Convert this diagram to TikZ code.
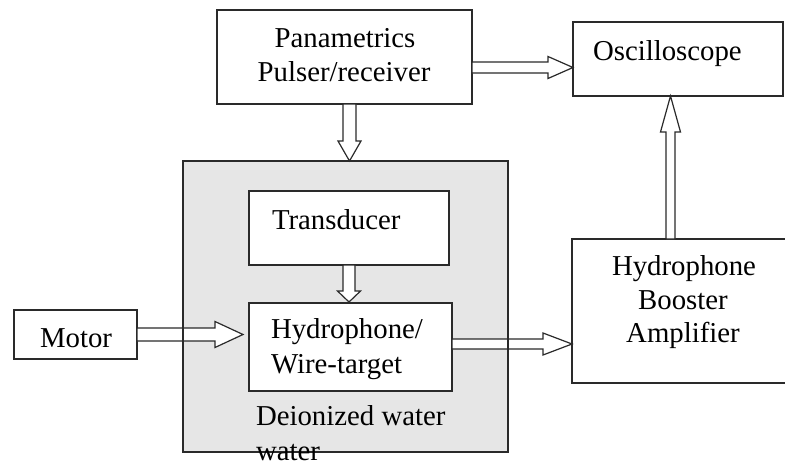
\documentclass[tikz,border=0pt]{standalone}
\usepackage{fontspec}
\setmainfont{Liberation Serif}
\usetikzlibrary{calc}
\definecolor{linec}{HTML}{2A2A2A}
\definecolor{waterc}{HTML}{E6E6E6}
\tikzset{
  box/.style={draw=linec, line width=1.4pt, fill=white, inner sep=0pt, outer sep=0pt, anchor=north west},
  lbl/.style={inner sep=0pt, outer sep=0pt, text=black, font=\fontsize{28.8pt}{34pt}\selectfont},
  barrow/.style={draw=linec, line width=1.2pt, fill=white, line join=miter}
}
% right-pointing block arrow: start, tip, shaft half, head half, head length
\newcommand{\barrowR}[5]{\draw[barrow] ($(#1)+(0,-#3)$) -- ($(#2)+(-#5,-#3)$) -- ($(#2)+(-#5,-#4)$) -- (#2) -- ($(#2)+(-#5,#4)$) -- ($(#2)+(-#5,#3)$) -- ($(#1)+(0,#3)$) -- cycle;}
% downward block arrow (y grows downward)
\newcommand{\barrowD}[5]{\draw[barrow] ($(#1)+(-#3,0)$) -- ($(#2)+(-#3,-#5)$) -- ($(#2)+(-#4,-#5)$) -- (#2) -- ($(#2)+(#4,-#5)$) -- ($(#2)+(#3,-#5)$) -- ($(#1)+(#3,0)$) -- cycle;}
% upward block arrow
\newcommand{\barrowU}[5]{\draw[barrow] ($(#1)+(-#3,0)$) -- ($(#2)+(-#3,#5)$) -- ($(#2)+(-#4,#5)$) -- (#2) -- ($(#2)+(#4,#5)$) -- ($(#2)+(#3,#5)$) -- ($(#1)+(#3,0)$) -- cycle;}
\begin{document}
\begin{tikzpicture}[x=1pt,y=-1pt]
\useasboundingbox (0,0) rectangle (785,469);
\clip (0,0) rectangle (785,469);
\fill[white] (0,0) rectangle (785,469);

% boxes
\node[box, fill=waterc, minimum width=325pt, minimum height=291pt] (water) at (183,161) {};
\node[box, minimum width=255pt, minimum height=94pt] (pan) at (217,10) {};
\node[box, minimum width=210pt, minimum height=74pt] (osc) at (573,22) {};
\node[box, minimum width=200pt, minimum height=74pt] (trans) at (249,191) {};
\node[box, minimum width=203pt, minimum height=88pt] (hyd) at (249,303) {};
\node[box, minimum width=123pt, minimum height=49pt] (mot) at (14,310) {};
\node[box, minimum width=224pt, minimum height=144pt] (boost) at (572,239) {};

% connectors
\coordinate (a1s) at ($(pan.east)+(0,10.5)$);
\coordinate (a1t) at (a1s -| osc.west);
\barrowR{a1s}{a1t}{5.5}{11}{25}

\coordinate (a2s) at ($(pan.south)+(5,0)$);
\coordinate (a2t) at (a2s |- water.north);
\barrowD{a2s}{a2t}{6.5}{11.5}{20}

\coordinate (a3s) at (trans.south);
\coordinate (a3t) at ($(trans.south |- hyd.north)+(0,-1)$);
\barrowD{a3s}{a3t}{6}{11.5}{11}

\coordinate (a4s) at (mot.east);
\coordinate (a4t) at ($(mot.east -| hyd.west)+(-6,0)$);
\barrowR{a4s}{a4t}{6.5}{13}{28}

\coordinate (a5s) at ($(hyd.east)+(0,-3)$);
\coordinate (a5t) at (a5s -| boost.west);
\barrowR{a5s}{a5t}{5}{11}{29}

\coordinate (a6s) at ($(boost.north)+(-13.5,0)$);
\coordinate (a6t) at (a6s |- osc.south);
\barrowU{a6s}{a6t}{4.5}{10}{36}

% water tank outline over the arrows
\draw[draw=linec, line width=1.4pt] (water.north west) rectangle (water.south east);

% labels
\node[lbl, anchor=base] (panA) at (345,47) {Panametrics};
\node[lbl, anchor=base] (panB) at (344,81) {Pulser/receiver};
\node[lbl, anchor=base west] (oscT) at (593,60) {Oscilloscope};
\node[lbl, anchor=base west] (transT) at (272,229) {Transducer};
\node[lbl, anchor=base west] (hydA) at (271,338) {Hydrophone/};
\node[lbl, anchor=base west] (hydB) at (271,373) {Wire-target};
\node[lbl, anchor=base west] (motT) at (40,347) {Motor};
\node[lbl, anchor=base west] (watA) at (256,425) {Deionized water};
\node[lbl, anchor=base west] (watB) at (256,460) {water};
\node[lbl, anchor=base] (bA) at (684,275) {Hydrophone};
\node[lbl, anchor=base] (bB) at (683,309) {Booster};
\node[lbl, anchor=base] (bC) at (683,342) {Amplifier};
\end{tikzpicture}
\end{document}
